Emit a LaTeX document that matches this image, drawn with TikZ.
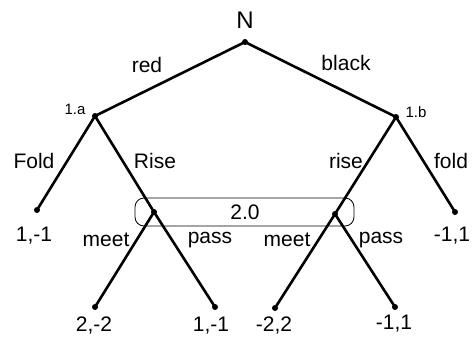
\documentclass[tikz,border=0pt]{standalone}
\usepackage{fontspec}
\setmainfont{Liberation Sans}
\begin{document}
\begin{tikzpicture}[x=1pt,y=-1pt,
  dot/.style={circle,fill=black,inner sep=0pt,minimum size=6pt},
  edge/.style={line width=2.6pt},
  lab/.style={font=\fontsize{21}{24}\selectfont,inner sep=0pt},
  small/.style={font=\fontsize{15}{17}\selectfont,inner sep=0pt}]
\useasboundingbox (0,0) rectangle (473,340);
\node[dot] (n) at (245,42) {};
\node[font=\fontsize{24}{26}\selectfont,inner sep=0pt] (nl) at (245,20) {N};
\node[dot] (a) at (95,116) {};
\node[dot] (b) at (396,117) {};
\node[small] (al) at (75,109) {1.a};
\node[small] (bl) at (416,112) {1.b};
\node[dot] (l1) at (37,210) {};
\node[dot] (c) at (154,212) {};
\node[dot] (d) at (335,214) {};
\node[dot] (l6) at (455,212) {};
\node[dot] (l2) at (95,307) {};
\node[dot] (l3) at (215,307) {};
\node[dot] (l4) at (275,308) {};
\node[dot] (l5) at (395,307) {};
\draw[edge] (n.center) -- (a.center);
\draw[edge] (n.center) -- (b.center);
\draw[edge] (a.center) -- (l1.center);
\draw[edge] (a.center) -- (c.center);
\draw[edge] (b.center) -- (d.center);
\draw[edge] (b.center) -- (l6.center);
\draw[edge] (c.center) -- (l2.center);
\draw[edge] (c.center) -- (l3.center);
\draw[edge] (d.center) -- (l4.center);
\draw[edge] (d.center) -- (l5.center);
\node[draw,line width=0.8pt,rounded corners=9pt,minimum width=219pt,minimum height=28pt] (info) at (244.5,212) {};
\node[lab] (i0) at (245,212) {2.0};
\node[lab] at (147,65) {red};
\node[lab] at (346,63) {black};
\node[lab] at (34,161) {Fold};
\node[lab] at (155,161) {Rise};
\node[lab] at (346,161) {rise};
\node[lab] at (451,161) {fold};
\node[lab] at (106,240) {meet};
\node[lab] at (210,240) {pass};
\node[lab] at (287,240) {meet};
\node[lab] at (381,240) {pass};
\node[lab] at (34,236) {1,-1};
\node[lab] at (452,236) {-1,1};
\node[lab] at (94,326) {2,-2};
\node[lab] at (211,326) {1,-1};
\node[lab] at (274,326) {-2,2};
\node[lab] at (394,324) {-1,1};
\end{tikzpicture}
\end{document}
